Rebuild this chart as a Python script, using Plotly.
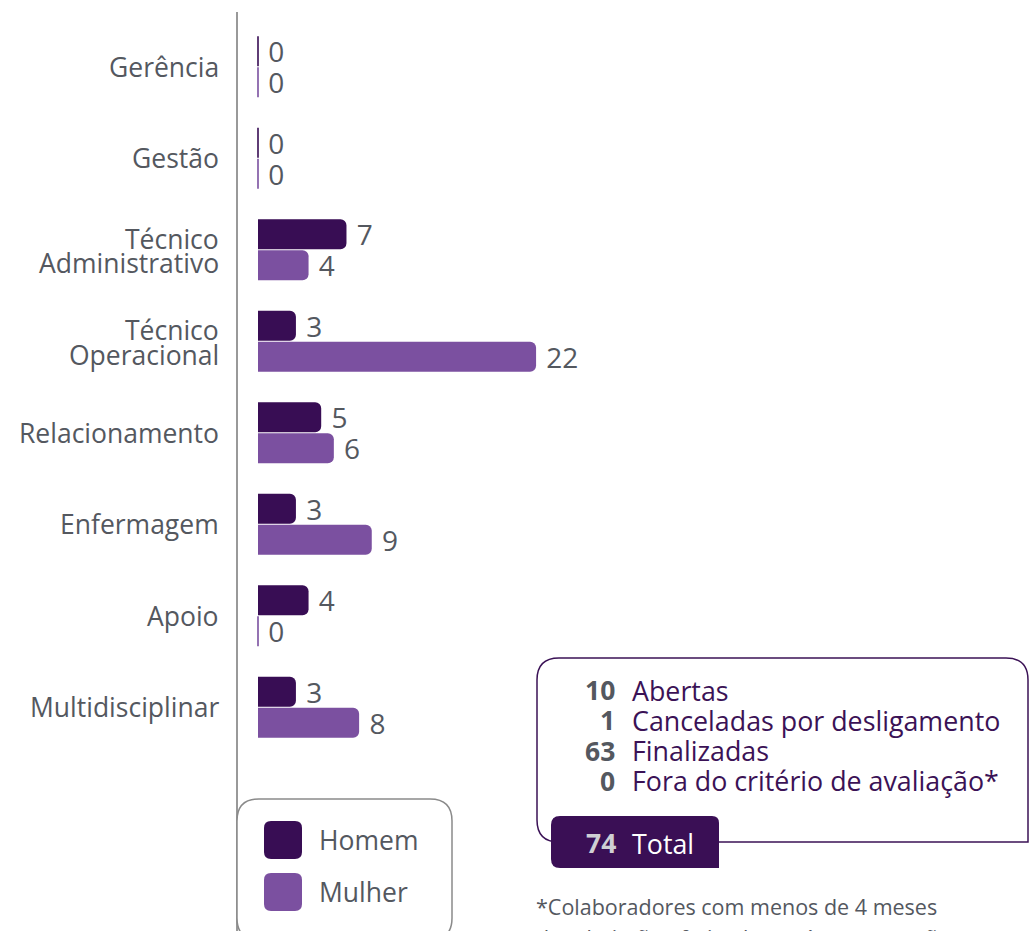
import plotly.graph_objects as go

# ---------------- data ----------------
CATEGORIES = ["Gerência", "Gestão", "Técnico Administrativo", "Técnico Operacional",
              "Relacionamento", "Enfermagem", "Apoio", "Multidisciplinar"]
CATEGORY_LINES = [["Gerência"], ["Gestão"], ["Técnico", "Administrativo"],
                  ["Técnico", "Operacional"], ["Relacionamento"], ["Enfermagem"],
                  ["Apoio"], ["Multidisciplinar"]]
HOMEM = [0, 0, 7, 3, 5, 3, 4, 3]
MULHER = [0, 0, 4, 22, 6, 9, 0, 8]
SERIES_NAMES = ["Homem", "Mulher"]

SUMMARY_VALUES = [10, 1, 63, 0]
SUMMARY_LABELS = ["Abertas", "Canceladas por desligamento", "Finalizadas",
                  "Fora do critério de avaliação*"]
TOTAL_VALUE = 74
TOTAL_LABEL = "Total"
FOOTNOTE = ["*Colaboradores com menos de 4 meses",
            "da admissão efetivados após contratação"]

# ---------------- style ----------------
FONT = "Open Sans"
GREY = "#54585f"
C_HOMEM = "#380d54"
C_MULHER = "#7b50a0"
C_BOX = "#3b1256"

W, H = 1035, 931
ML, MR, MT, MB = 237, 35, 21, 178
PW, PH = W - ML - MR, H - MT - MB
PX_PER_UNIT = 12.64
X0 = -21 / PX_PER_UNIT
X1 = X0 + PW / PX_PER_UNIT


def px(x):
    return (x - ML) / PW


def py(y):
    return (H - MB - y) / PH


def rrect(x0, y0, x1, y1, r_tl, r_tr, r_br, r_bl):
    pts = []
    pts.append(f"M{px(x0 + r_tl)},{py(y0)}")
    pts.append(f"L{px(x1 - r_tr)},{py(y0)}")
    pts.append(f"Q{px(x1)},{py(y0)} {px(x1)},{py(y0 + r_tr)}")
    pts.append(f"L{px(x1)},{py(y1 - r_br)}")
    pts.append(f"Q{px(x1)},{py(y1)} {px(x1 - r_br)},{py(y1)}")
    pts.append(f"L{px(x0 + r_bl)},{py(y1)}")
    pts.append(f"Q{px(x0)},{py(y1)} {px(x0)},{py(y1 - r_bl)}")
    pts.append(f"L{px(x0)},{py(y0 + r_tl)}")
    pts.append(f"Q{px(x0)},{py(y0)} {px(x0 + r_tl)},{py(y0)}")
    pts.append("Z")
    return " ".join(pts)


fig = go.Figure()
for name, vals, col in [(SERIES_NAMES[0], HOMEM, C_HOMEM), (SERIES_NAMES[1], MULHER, C_MULHER)]:
    fig.add_trace(go.Bar(
        y=CATEGORIES, x=vals, orientation="h", name=name,
        marker=dict(color=col, cornerradius=6,
                    line=dict(color=col, width=[1.6 if v == 0 else 0 for v in vals])),
        texttemplate="\u00a0%{x}", textposition="outside",
        textfont=dict(family=FONT, size=28, color=GREY),
        constraintext="none", cliponaxis=False, showlegend=False,
        hoverinfo="skip",
    ))

fig.update_layout(
    width=W, height=H,
    margin=dict(l=ML, r=MR, t=MT, b=MB, pad=0),
    paper_bgcolor="white", plot_bgcolor="white",
    barmode="group", bargap=0.322, bargroupgap=0.03,
    font=dict(family=FONT, color=GREY),
    xaxis=dict(range=[X0, X1], visible=False, fixedrange=True),
    yaxis=dict(range=[len(CATEGORIES) - 0.5, -0.5], showticklabels=False,
               showgrid=False, zeroline=False, showline=False, ticks="",
               fixedrange=True),
)

shapes = []
annotations = []

# category labels
for cat, lines in zip(CATEGORIES, CATEGORY_LINES):
    n = len(lines)
    for i, ln in enumerate(lines):
        ys = 0 if n == 1 else 11 - i * 24.5
        annotations.append(dict(
            x=0, xref="paper", y=cat, yref="y", xanchor="right", yanchor="middle",
            xshift=-16, yshift=ys, text=ln, showarrow=False,
            font=dict(family=FONT, size=26.5, color=GREY)))

# axis line
shapes.append(dict(type="line", xref="paper", yref="paper",
                   x0=px(237), x1=px(237), y0=py(12), y1=py(H + 5),
                   line=dict(color="#999999", width=2)))

# legend box
shapes.append(dict(type="path", xref="paper", yref="paper",
                   path=rrect(237, 799, 452, 940, 22, 22, 22, 22),
                   line=dict(color="#8a8a8a", width=1.5), fillcolor="white"))
for i, (name, col) in enumerate([(SERIES_NAMES[0], C_HOMEM), (SERIES_NAMES[1], C_MULHER)]):
    top = 821 + i * 52
    shapes.append(dict(type="path", xref="paper", yref="paper",
                       path=rrect(264, top, 302, top + 38, 7, 7, 7, 7),
                       line=dict(width=0), fillcolor=col))
    annotations.append(dict(x=px(317), y=py(top + 19), xref="paper", yref="paper",
                            xanchor="left", yanchor="middle", text=name, showarrow=False,
                            font=dict(family=FONT, size=26.5, color=GREY)))

# summary box
shapes.append(dict(type="path", xref="paper", yref="paper",
                   path=rrect(537, 658, 1028, 842, 22, 22, 0, 22),
                   line=dict(color=C_BOX, width=1.5), fillcolor="white"))
for i, (v, lab) in enumerate(zip(SUMMARY_VALUES, SUMMARY_LABELS)):
    yc = 690 + i * 30.3
    annotations.append(dict(x=px(617), y=py(yc), xref="paper", yref="paper",
                            xanchor="right", yanchor="middle", text=f"<b>{v}</b>",
                            showarrow=False, font=dict(family=FONT, size=26.5, color=GREY)))
    annotations.append(dict(x=px(630), y=py(yc), xref="paper", yref="paper",
                            xanchor="left", yanchor="middle", text=lab,
                            showarrow=False, font=dict(family=FONT, size=26.8, color=C_BOX)))

# total tab
shapes.append(dict(type="path", xref="paper", yref="paper",
                   path=rrect(551, 816, 719, 868, 9, 7, 0, 9),
                   line=dict(width=0), fillcolor="#3a0f55"))
annotations.append(dict(x=px(618), y=py(843), xref="paper", yref="paper",
                        xanchor="right", yanchor="middle", text=f"<b>{TOTAL_VALUE}</b>",
                        showarrow=False, font=dict(family=FONT, size=26.5, color="#cfcfd4")))
annotations.append(dict(x=px(630), y=py(843), xref="paper", yref="paper",
                        xanchor="left", yanchor="middle", text=TOTAL_LABEL,
                        showarrow=False, font=dict(family=FONT, size=26.8, color="white")))

# footnote
for i, ln in enumerate(FOOTNOTE):
    annotations.append(dict(x=px(534), y=py(907 + i * 30), xref="paper", yref="paper",
                            xanchor="left", yanchor="middle", text=ln,
                            showarrow=False, font=dict(family=FONT, size=21.5, color=GREY)))

fig.update_layout(shapes=shapes, annotations=annotations)
fig.write_html("out.html", config={"displayModeBar": False, "staticPlot": True},
               post_script="document.body.style.margin='0px';document.body.style.padding='0px';")
